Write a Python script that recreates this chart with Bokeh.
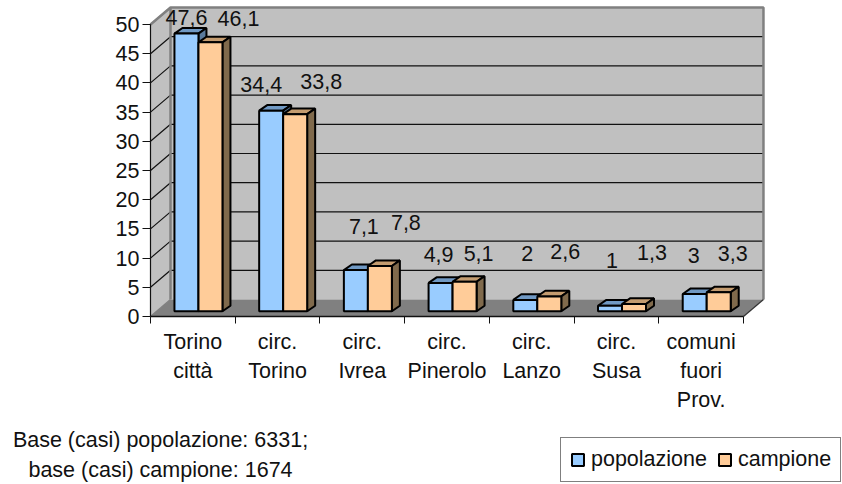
from bokeh.plotting import figure
from bokeh.models import ColumnDataSource, FixedTicker, Legend, LegendItem, Range1d
from bokeh.core.properties import value
from bokeh.embed import file_html
from bokeh.resources import INLINE

categories = ["Torino\ncittà", "circ.\nTorino", "circ.\nIvrea", "circ.\nPinerolo",
              "circ.\nLanzo", "circ.\nSusa", "comuni\nfuori\nProv."]
popolazione = [47.6, 34.4, 7.1, 4.9, 2, 1, 3]
campione = [46.1, 33.8, 7.8, 5.1, 2.6, 1.3, 3.3]
pop_labels = ["47,6", "34,4", "7,1", "4,9", "2", "1", "3"]
cam_labels = ["46,1", "33,8", "7,8", "5,1", "2,6", "1,3", "3,3"]
y_ticks = [0, 5, 10, 15, 20, 25, 30, 35, 40, 45, 50]
series_names = ["popolazione", "campione"]
note_lines = ["Base (casi) popolazione: 6331;", "base (casi) campione: 1674"]

# layout: hand-set pixel nudges of the value labels, relative to each bar's top
pop_nudge = [(0, -21), (-10, -31), (8, -49), (-2, -33), (2, -51), (2, -50), (-1, -43)]
cam_nudge = [(28, -29), (26, -38), (26, -48), (14, -33), (16, -50), (18, -56), (14, -44)]

W, H = 842, 484
PX = 84.71          # pixels per category
PY = 5.84           # pixels per unit of value
X0, Y0 = 150, 316   # page pixels of the axes origin
xmin, xmax = -X0 / PX, (W - X0) / PX
ymax, ymin = Y0 / PY, (Y0 - H) / PY

WX, WY = 20 / PX, 17 / PY       # depth of the wall
BX, BY = 5.6 / PX, 5.2 / PY     # front plane of the bars
DX, DY = 8 / PX, 5.6 / PY       # depth of a bar
BW = 24 / PX                    # width of a bar
GAP = (1 - 2 * BW) / 2

SANS = "Liberation Sans"
INK = "#111111"
WALL, FLOOR, EDGE = "#C0C0C0", "#808080", "#808080"
FS = "21.5px"

p = figure(width=W, height=H, output_backend="svg", toolbar_location=None,
           x_range=Range1d(xmin, xmax), y_range=Range1d(ymin, ymax),
           min_border=0, min_border_left=0, min_border_right=0, min_border_top=0, min_border_bottom=0)
p.outline_line_color = None
p.grid.visible = False
p.background_fill_color = "white"

# walls and floor
n = len(categories)
p.patch([0, WX, WX, 0], [0, WY, 50 + WY, 50], fill_color=WALL, line_color=None)
p.patch([WX, n + WX, n + WX, WX], [WY, WY, 50 + WY, 50 + WY], fill_color=WALL, line_color=None)
p.patch([0, n, n + WX, WX], [0, 0, WY, WY], fill_color=FLOOR, line_color=None)

# gridlines
for v in y_ticks[1:]:
    p.line([0, WX, n + WX], [v, v + WY, v + WY], line_color="#111111", line_width=1.2)
p.line([0, WX, n + WX, n + WX], [50, 50 + WY, 50 + WY, WY], line_color=EDGE, line_width=2.5)
p.line([WX, WX], [WY, 50 + WY], line_color=EDGE, line_width=2.5)
p.line([0, WX], [0, WY], line_color=EDGE, line_width=1.5)
p.line([n, n + WX], [0, WY], line_color="#333333", line_width=1.2)


def bar(x, v, front, top, side):
    x1 = x + BW
    b, t = BY, v + BY * 0.95
    p.patch([x, x1, x1 + DX, x + DX], [t, t, t + DY, t + DY], fill_color=top,
            line_color="#000000", line_width=2)
    p.patch([x1, x1 + DX, x1 + DX, x1], [b, b + DY, t + DY, t], fill_color=side,
            line_color="#000000", line_width=2)
    return p.quad(left=x, right=x1, bottom=b, top=t, fill_color=front,
                  line_color="#000000", line_width=2)


r_pop = r_cam = None
for i in range(n):
    xs = i + GAP + BX
    r_pop = bar(xs, popolazione[i], "#99CCFF", "#7099C4", "#5A7A9C")
    r_cam = bar(xs + BW, campione[i], "#FFCC99", "#C49C70", "#806A4C")

# value labels
lab = ColumnDataSource(dict(
    x=[i + GAP + BX + BW / 2 for i in range(n)] + [i + GAP + BX + BW * 1.5 for i in range(n)],
    y=popolazione + campione,
    t=pop_labels + cam_labels,
    dx=[d[0] for d in pop_nudge] + [d[0] for d in cam_nudge],
    dy=[d[1] for d in pop_nudge] + [d[1] for d in cam_nudge],
))
p.text("x", "y", text="t", x_offset="dx", y_offset="dy", source=lab, text_font=value(SANS),
       text_font_size=FS, text_color=INK, text_align="center", text_baseline="middle")

# axes
p.yaxis.fixed_location = 0
p.xaxis.fixed_location = 0
p.yaxis.ticker = FixedTicker(ticks=y_ticks)
p.yaxis.bounds = (0, 50)
p.yaxis.major_label_text_font = SANS
p.yaxis.major_label_text_font_size = FS
p.yaxis.major_label_text_color = INK
p.yaxis.major_label_standoff = 3
p.yaxis.major_tick_out = 8
p.yaxis.major_tick_in = 0
p.yaxis.minor_tick_out = 0
p.yaxis.minor_tick_in = 0
p.yaxis.axis_line_color = "#111111"
p.yaxis.axis_line_width = 1.2
p.yaxis.major_tick_line_color = "#111111"
p.xaxis.ticker = FixedTicker(ticks=list(range(n + 1)))
p.xaxis.bounds = (0, n)
p.xaxis.major_label_text_color = None
p.xaxis.major_label_text_font_size = "1px"
p.xaxis.major_tick_out = 7
p.xaxis.major_tick_in = 0
p.xaxis.minor_tick_out = 0
p.xaxis.minor_tick_in = 0
p.xaxis.axis_line_color = "#111111"
p.xaxis.axis_line_width = 1.5
p.xaxis.major_tick_line_color = "#111111"

# category labels, line by line
cx, cy, ct = [], [], []
for i, c in enumerate(categories):
    for j, part in enumerate(c.split("\n")):
        cx.append(i + 0.5)
        cy.append((Y0 - 341 - 29 * j) / PY)
        ct.append(part)
p.text(cx, cy, text=ct, text_font=value(SANS), text_font_size=FS, text_color=INK,
       text_align="center", text_baseline="middle")

# note under the chart
note_x = [(160 - X0) / PX] * 2
note_y = [(Y0 - 439) / PY, (Y0 - 469) / PY]
p.text(note_x, note_y, text=note_lines, text_font=value(SANS), text_font_size=FS,
       text_color=INK, text_align="center", text_baseline="middle")

legend = Legend(items=[LegendItem(label=series_names[0], renderers=[r_pop]),
                       LegendItem(label=series_names[1], renderers=[r_cam])],
                orientation="horizontal", location=(560, 2), margin=0, padding=9, spacing=10,
                glyph_width=15, glyph_height=15, label_standoff=6,
                label_text_font=SANS, label_text_font_size=FS, label_text_color=INK,
                border_line_color="#000000", border_line_width=1.5,
                background_fill_color="white", background_fill_alpha=1)
p.add_layout(legend, "center")

open("out.html", "w").write(file_html(p, INLINE))
